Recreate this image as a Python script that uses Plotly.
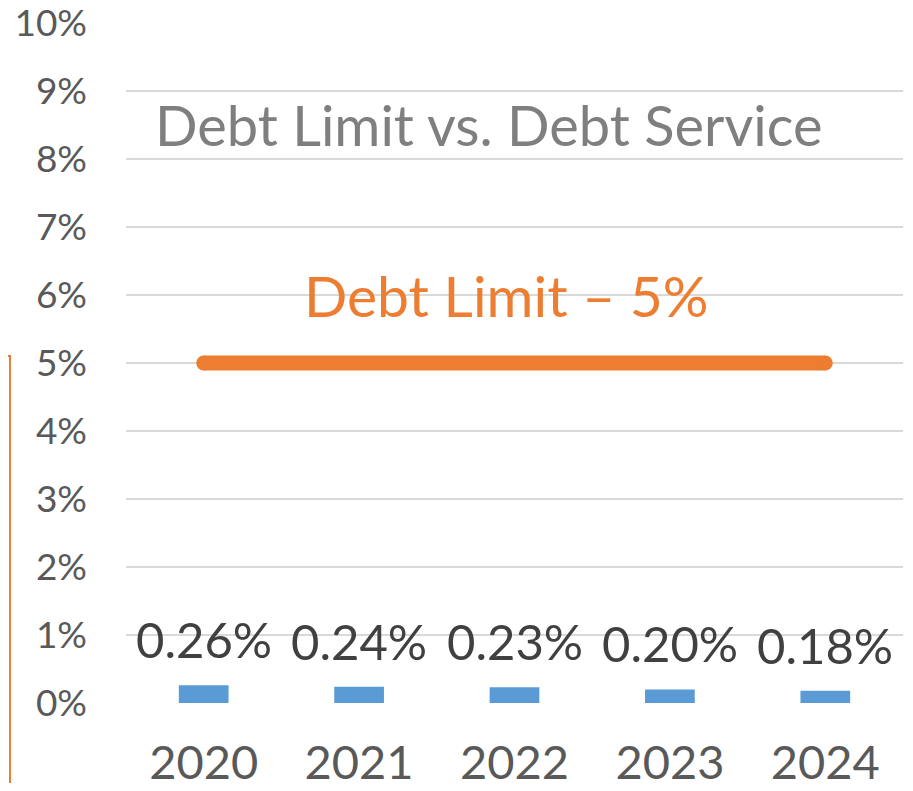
import plotly.graph_objects as go

years = ["2020", "2021", "2022", "2023", "2024"]
debt_service = [0.26, 0.24, 0.23, 0.20, 0.18]
service_labels = ["0.26%", "0.24%", "0.23%", "0.20%", "0.18%"]
debt_limit = [5, 5, 5, 5, 5]
y_ticks = [0, 1, 2, 3, 4, 5, 6, 7, 8, 9, 10]
y_tick_labels = ["0%", "1%", "2%", "3%", "4%", "5%", "6%", "7%", "8%", "9%", "10%"]

FONT = "Lato"
ORANGE = "#ED7D31"
BLUE = "#5B9BD5"

pos = list(range(len(years)))

fig = go.Figure()
fig.add_trace(go.Bar(x=pos, y=debt_service, width=0.32,
                     marker=dict(color=BLUE, line=dict(width=0)),
                     showlegend=False, hoverinfo="skip"))
fig.add_trace(go.Scatter(x=[pos[0], pos[-1]], y=[debt_limit[0], debt_limit[-1]],
                         mode="lines+markers",
                         line=dict(color=ORANGE, width=15),
                         marker=dict(color=ORANGE, size=15, line=dict(width=0)),
                         showlegend=False, hoverinfo="skip"))

for x, v, t in zip(pos, debt_service, service_labels):
    fig.add_annotation(x=x, y=v, text=t, showarrow=False, yanchor="bottom", yshift=15,
                       font=dict(family=FONT, size=49, color="#404040"))

# positions below use page pixels (plot area: x 126..903, y 23..703)
px = lambda p: (p - 126) / 777
py = lambda p: (703 - p) / 680

fig.add_annotation(xref="paper", yref="paper", x=px(489), y=py(124),
                   text="Debt Limit vs. Debt Service", showarrow=False,
                   xanchor="center", yanchor="middle",
                   font=dict(family=FONT, size=56, color="#7F7F7F"))
fig.add_annotation(xref="paper", yref="paper", x=px(506), y=py(295),
                   text="Debt Limit \u2013 5%", showarrow=False,
                   xanchor="center", yanchor="middle",
                   font=dict(family=FONT, size=57, color=ORANGE))

# orange bracket at left edge
fig.add_shape(type="path", xref="paper", yref="paper",
              path=f"M {px(-2)} {py(356)} L {px(10)} {py(356)} L {px(10)} {py(800)}",
              line=dict(color=ORANGE, width=2))

fig.update_layout(
    width=897, height=775,
    margin=dict(l=118, r=2, t=15, b=80),
    paper_bgcolor="white", plot_bgcolor="white",
    xaxis=dict(range=[-0.5, 4.5], tickvals=pos, ticktext=years,
               showgrid=False, showline=False, zeroline=False, ticks="",
               tickfont=dict(family=FONT, size=47, color="#595959"),
               ticklabelstandoff=28, automargin=False, fixedrange=True),
    yaxis=dict(range=[0, 10], tickvals=y_ticks, ticktext=y_tick_labels,
               showgrid=True, gridcolor="#D9D9D9", gridwidth=1.5,
               zeroline=False, showline=False, ticks="",
               tickfont=dict(family=FONT, size=37, color="#595959"),
               ticklabelstandoff=38, ticklabeloverflow="allow",
               automargin=False, fixedrange=True),
)

fig.write_html("out.html", config={"displayModeBar": False})
